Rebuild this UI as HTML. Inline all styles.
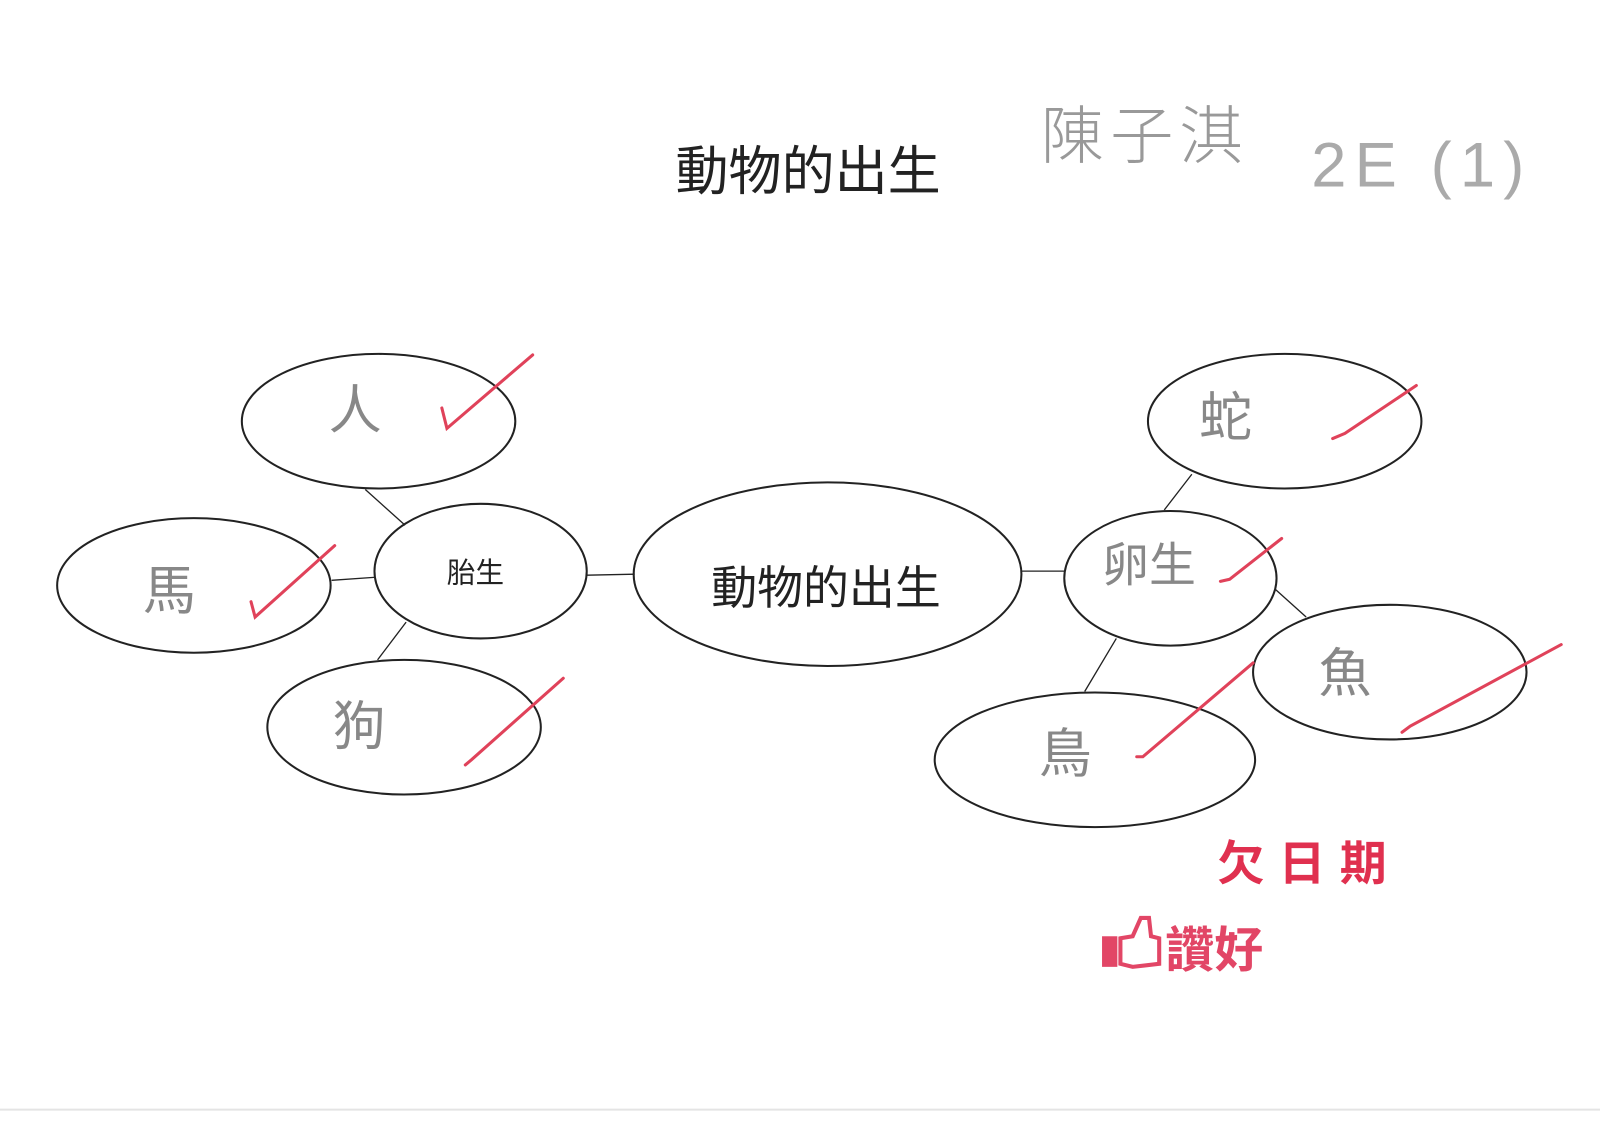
<!DOCTYPE html>
<html><head><meta charset="utf-8"><style>
html,body{margin:0;padding:0;background:#fff;width:1600px;height:1128px;overflow:hidden}
svg{display:block}
text{font-family:"Liberation Sans","Noto Sans CJK TC",sans-serif}
</style></head><body>
<svg width="1600" height="1128" viewBox="0 0 1568 1106" preserveAspectRatio="none">
<rect width="1568" height="1106" fill="#fff"/>
<line x1="0" y1="1088" x2="1568" y2="1088" stroke="#e4e4e4" stroke-width="2"/>
<text x="662" y="186" font-size="52" fill="#222">動物的出生</text>
<text x="1020" y="155" font-size="62" fill="#999" font-weight="300" letter-spacing="6">陳子淇</text>
<text x="1285" y="183" font-size="62" fill="#aaa" font-weight="300" letter-spacing="8">2E (1)</text>
<g fill="none" stroke="#222" stroke-width="2">
<ellipse cx="371" cy="413" rx="134" ry="66"/>
<ellipse cx="190" cy="574" rx="134" ry="66"/>
<ellipse cx="471" cy="560" rx="104" ry="66"/>
<ellipse cx="396" cy="713" rx="134" ry="66"/>
<ellipse cx="811" cy="563" rx="190" ry="90"/>
<ellipse cx="1259" cy="413" rx="134" ry="66"/>
<ellipse cx="1147" cy="567" rx="104" ry="66"/>
<ellipse cx="1362" cy="659" rx="134" ry="66"/>
<ellipse cx="1073" cy="745" rx="157" ry="66"/>
<g stroke-width="1.3">
<line x1="358" y1="480" x2="397" y2="515"/>
<line x1="325" y1="569" x2="368" y2="566"/>
<line x1="398" y1="610" x2="370" y2="647"/>
<line x1="575" y1="564" x2="622" y2="563"/>
<line x1="1001" y1="560" x2="1043" y2="560"/>
<line x1="1168" y1="465" x2="1141" y2="500"/>
<line x1="1250" y1="578" x2="1280" y2="605"/>
<line x1="1094" y1="626" x2="1063" y2="678"/>
</g></g>
<text x="697" y="592" font-size="45" fill="#222">動物的出生</text>
<text x="438" y="571" font-size="28" fill="#222">胎生</text>
<g fill="#888" font-size="52">
<text x="322" y="420">人</text>
<text x="140" y="597">馬</text>
<text x="326" y="730">狗</text>
<text x="1175" y="427">蛇</text>
<text x="1080" y="570" font-size="46">卵生</text>
<text x="1292" y="678">魚</text>
<text x="1018" y="757">鳥</text>
</g>
<g fill="none" stroke="#e0425a" stroke-width="3" stroke-linecap="round">
<path d="M433 400 L438 420 L522 348"/>
<path d="M246 590 L250 605 L328 535"/>
<path d="M456 750 L462 745 L552 665"/>
<path d="M1306 430 L1318 425 L1388 378"/>
<path d="M1196 570 L1205 568 L1256 528"/>
<path d="M1114 742 L1120 742 L1228 650"/>
<path d="M1374 718 L1382 712 L1530 632"/>
</g>
<text x="1193" y="863" font-size="46" font-weight="bold" fill="#e0304f" letter-spacing="14">欠日期</text>
<g fill="#e24666">
<rect x="1080" y="918" width="15" height="30"/>
<path d="M1098 920 L1110 918 L1118 900 L1126 900 L1128 918 L1136 920 L1136 945 L1110 948 L1098 945 Z" fill="none" stroke="#e24666" stroke-width="4"/>
<text x="1142" y="948" font-size="48" font-weight="bold">讚好</text>
</g>
</svg>
</body></html>
